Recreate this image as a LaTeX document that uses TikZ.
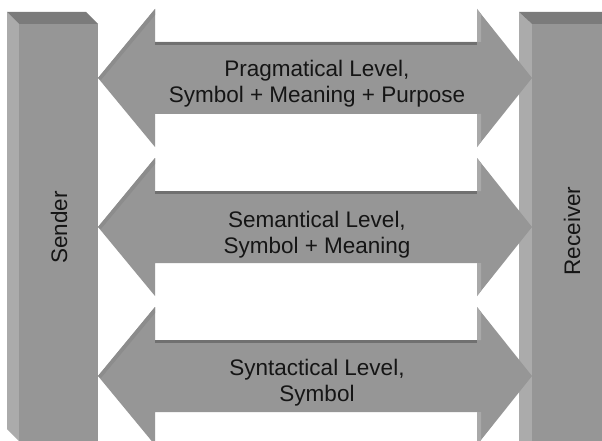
\documentclass[tikz,border=0pt]{standalone}
\usepackage{fontspec}
\setmainfont{Liberation Sans}
\definecolor{face}{HTML}{969696}
\definecolor{sideface}{HTML}{ABABAB}
\definecolor{topface}{HTML}{7B7B7B}
\definecolor{shaftedge}{HTML}{707070}
\definecolor{headedge}{HTML}{A9A9A9}
\definecolor{slantedge}{HTML}{8C8C8C}
\definecolor{ink}{HTML}{151515}

\begin{document}
\begin{tikzpicture}[x=1pt,y=-1pt,
  lbl/.style={font=\fontsize{22.5}{26}\selectfont, inner sep=0pt, text=ink}]
\useasboundingbox (0,0) rectangle (602,441);
\fill[white] (0,0) rectangle (602,441);

% Sender block (3D bar)
\fill[sideface] (7,12) -- (19,24) -- (19,441) -- (7,429) -- cycle;
\fill[topface] (7,12) -- (86,12) -- (98,24) -- (19,24) -- cycle;
\fill[face] (19,24) rectangle (98,441);

% Receiver block (3D bar)
\fill[sideface] (519,12) -- (532,24) -- (532,441) -- (519,441) -- cycle;
\fill[topface] (519,12) -- (602,12) -- (602,24) -- (532,24) -- cycle;
\fill[face] (532,24) rectangle (602,441);

% Double arrows between the blocks
\foreach \cy in {78,227,376}{
  \fill[face] (98,\cy) -- (155,\cy-69) -- (155,\cy-36) -- (477,\cy-36)
    -- (477,\cy-69) -- (532,\cy) -- (477,\cy+69) -- (477,\cy+36)
    -- (155,\cy+36) -- (155,\cy+69) -- cycle;
  % bevel on the upper slant of the left head
  \fill[slantedge] (98,\cy) -- (155,\cy-69) -- (155,\cy-63) -- (101,\cy+2) -- cycle;
  % dark edge along the top of the shaft
  \fill[shaftedge] (155,\cy-36) rectangle (477,\cy-33);
  % light bevel on the back edge of the right head
  \fill[headedge] (477,\cy-69) -- (481,\cy-64) -- (481,\cy-36) -- (477,\cy-36) -- cycle;
  \fill[headedge] (477,\cy+36) -- (481,\cy+36) -- (481,\cy+64) -- (477,\cy+69) -- cycle;
}

% Labels
\node[lbl, anchor=base] (prag1) at (317,77) {Pragmatical Level,};
\node[lbl, anchor=base] (prag2) at (317,103) {Symbol + Meaning + Purpose};
\node[lbl, anchor=base] (sem1) at (317,227) {Semantical Level,};
\node[lbl, anchor=base] (sem2) at (317,253) {Symbol + Meaning};
\node[lbl, anchor=base] (syn1) at (317,375) {Syntactical Level,};
\node[lbl, anchor=base] (syn2) at (317,401) {Symbol};
\node[lbl, anchor=base, rotate=90] (sender) at (67,227.5) {Sender};
\node[lbl, anchor=base, rotate=90] (receiver) at (580,231) {Receiver};
\end{tikzpicture}
\end{document}
